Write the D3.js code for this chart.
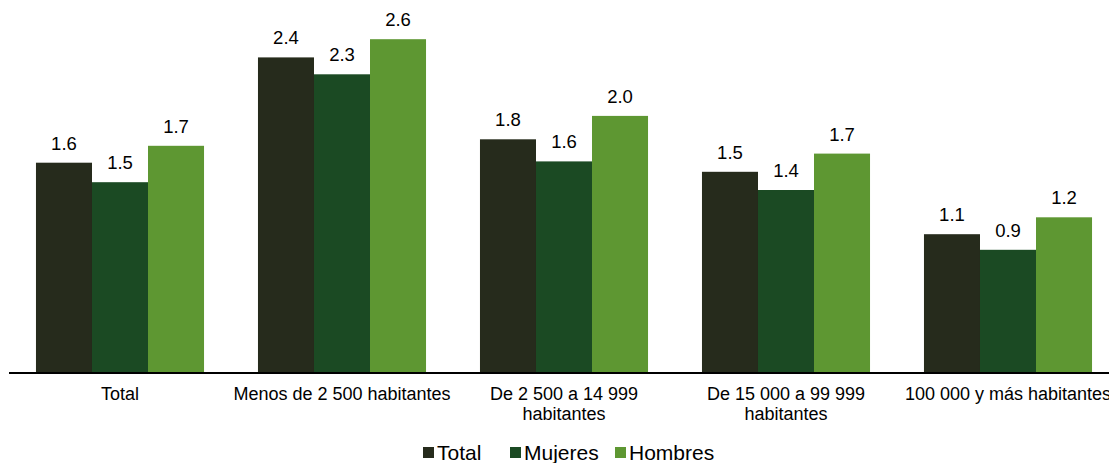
<!DOCTYPE html>
<html>
<head>
<meta charset="utf-8">
<script src="https://cdn.jsdelivr.net/npm/d3@7"></script>
<style>
  body { margin: 0; background: #fff; }
  text { font-family: "Liberation Sans", Arial, sans-serif; fill: #000; }
</style>
</head>
<body>
<svg id="chart" width="1109" height="463"></svg>
<script>
// categories (tick labels split into lines as in the original)
var categories = ["Total", "Menos de 2 500 habitantes", "De 2 500 a 14 999 habitantes", "De 15 000 a 99 999 habitantes", "100 000 y más habitantes"];
var tickLines = [["Total"], ["Menos de 2 500 habitantes"], ["De 2 500 a 14 999", "habitantes"], ["De 15 000 a 99 999", "habitantes"], ["100 000 y más habitantes"]];

var seriesNames = ["Total", "Mujeres", "Hombres"];
var totalVals   = [1.61, 2.42, 1.79, 1.54, 1.06];
var mujeresVals = [1.46, 2.29, 1.62, 1.40, 0.94];
var hombresVals = [1.74, 2.56, 1.97, 1.68, 1.19];
var colors = ["#262b1c", "#1b4a23", "#5e9732"];

var svg = d3.select("#chart");
var base = 372;

var x = d3.scaleBand().domain(categories).range([9, 1119]).paddingInner(0.243).paddingOuter(0.1215);
var x1 = d3.scaleBand().domain(seriesNames).range([0, x.bandwidth()]);
var y = d3.scaleLinear().domain([0, 2.8]).range([base, base - 364]);

var rows = categories.map(function(c, i){
  return {cat: c, vals: [totalVals[i], mujeresVals[i], hombresVals[i]]};
});

var g = svg.selectAll("g.grp").data(rows).enter().append("g")
  .attr("class", "grp")
  .attr("transform", d => "translate(" + x(d.cat) + ",0)");

g.selectAll("rect").data(d => d.vals.map((v, j) => ({s: seriesNames[j], v: v, j: j})))
  .enter().append("rect")
  .attr("x", d => x1(d.s))
  .attr("y", d => y(d.v))
  .attr("width", x1.bandwidth())
  .attr("height", d => base - y(d.v))
  .style("fill", d => colors[d.j]);

g.selectAll("text.val").data(d => d.vals.map((v, j) => ({s: seriesNames[j], v: v})))
  .enter().append("text")
  .attr("class", "val")
  .attr("x", d => x1(d.s) + x1.bandwidth() / 2)
  .attr("y", d => y(d.v) - 13)
  .attr("text-anchor", "middle")
  .style("font-size", "18.5px")
  .text(d => d.v.toFixed(1));

// axis line
svg.append("line").attr("x1", 9).attr("x2", 1109).attr("y1", base + 1).attr("y2", base + 1)
  .style("stroke", "#000").style("stroke-width", 2);

// category labels
var tl = svg.selectAll("text.cat").data(categories).enter().append("text")
  .attr("class", "cat")
  .attr("text-anchor", "middle")
  .style("font-size", "18px");
tl.each(function(c, i){
  var t = d3.select(this);
  tickLines[i].forEach(function(line, k){
    t.append("tspan").attr("x", x(c) + x.bandwidth() / 2).attr("y", 400 + k * 20).text(line);
  });
});

// legend
var legX = [423, 510, 615];
var leg = svg.selectAll("g.leg").data(seriesNames).enter().append("g")
  .attr("class", "leg")
  .attr("transform", (d, i) => "translate(" + legX[i] + ",0)");
leg.append("rect").attr("x", 0).attr("y", 447).attr("width", 11).attr("height", 11)
  .style("fill", (d, i) => colors[i]);
leg.append("text").attr("x", 14).attr("y", 460).style("font-size", "21px").text(d => d);
</script>
</body>
</html>
